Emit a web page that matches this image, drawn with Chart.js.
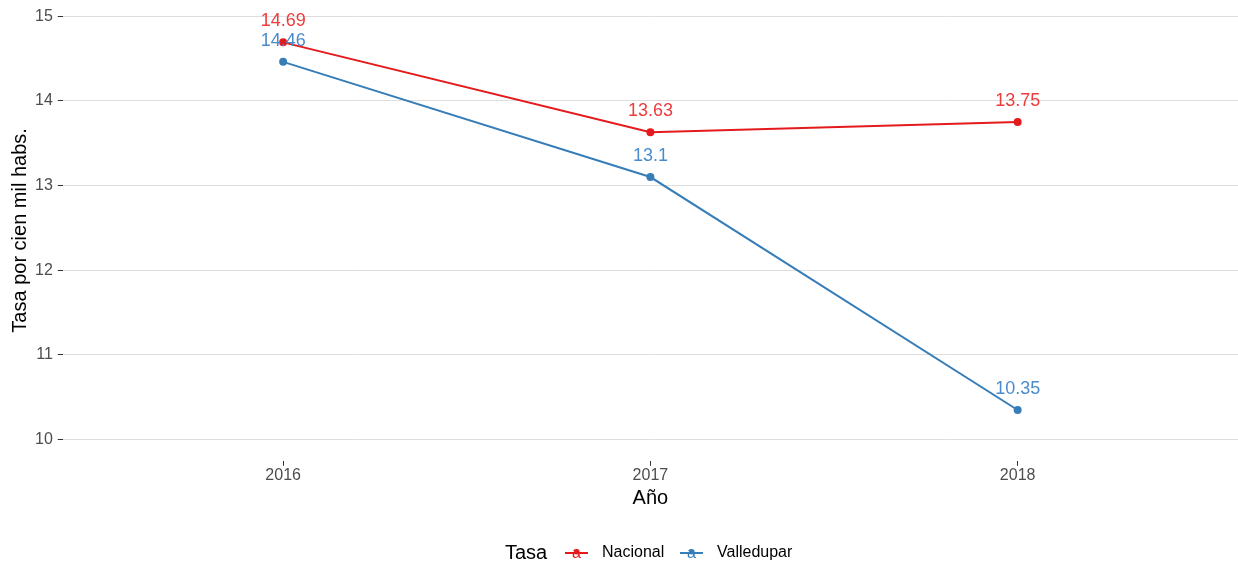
<!DOCTYPE html>
<html>
<head>
<meta charset="utf-8">
<script src="https://cdn.jsdelivr.net/npm/chart.js@4"></script>
<style>
  html, body { margin: 0; padding: 0; background: #fff; }
  #wrap { width: 1238px; height: 566px; position: relative; }
</style>
</head>
<body>
<div id="wrap"><canvas id="myChart"></canvas></div>
<script>
// data
const years = [2016, 2017, 2018];
const nacional = [14.69, 13.63, 13.75];
const valledupar = [14.46, 13.1, 10.35];
const yTicks = [10, 11, 12, 13, 14, 15];
const seriesNames = ["Nacional", "Valledupar"];
const lineColors = ["#E41A1C", "#377EB8"];
const textColors = ["#EE3B3D", "#4A8CCB"];

const FONT = "'Liberation Sans', Arial, sans-serif";

// value labels above each point
const pointLabels = {
    id: "pointLabels",
    afterDatasetsDraw(chart) {
        const ctx = chart.ctx;
        ctx.save();
        ctx.font = "18px " + FONT;
        ctx.textAlign = "center";
        ctx.textBaseline = "middle";
        chart.data.datasets.forEach((ds, i) => {
            const meta = chart.getDatasetMeta(i);
            meta.data.forEach((pt, j) => {
                ctx.fillStyle = textColors[i];
                ctx.fillText(String(ds.data[j].y), pt.x, pt.y - 21);
            });
        });
        ctx.restore();
    }
};

// ggplot-like legend at the bottom
const bottomLegend = {
    id: "bottomLegend",
    afterDraw(chart) {
        const ctx = chart.ctx;
        const y = 553;
        ctx.save();
        ctx.textBaseline = "middle";
        ctx.textAlign = "left";
        ctx.font = "20px " + FONT;
        ctx.fillStyle = "#000";
        ctx.fillText("Tasa", 505, y);
        const keyX = [565, 680];
        seriesNames.forEach((name, i) => {
            const x0 = keyX[i];
            ctx.strokeStyle = lineColors[i];
            ctx.lineWidth = 2;
            ctx.beginPath();
            ctx.moveTo(x0, y);
            ctx.lineTo(x0 + 23, y);
            ctx.stroke();
            ctx.fillStyle = lineColors[i];
            ctx.beginPath();
            ctx.arc(x0 + 11.5, y - 1, 2.5, 0, Math.PI * 2);
            ctx.fill();
            ctx.font = "16px " + FONT;
            ctx.textAlign = "center";
            ctx.fillText("a", x0 + 11.5, y + 1);
            ctx.textAlign = "left";
            ctx.fillStyle = "#000";
            ctx.font = "16px " + FONT;
            ctx.fillText(name, x0 + 37, y);
        });
        ctx.restore();
    }
};

const toPoints = (vals) => vals.map((v, i) => ({ x: years[i], y: v }));

new Chart("myChart", {
    type: "line",
    data: {
        datasets: [nacional, valledupar].map((vals, i) => ({
            label: seriesNames[i],
            data: toPoints(vals),
            borderColor: lineColors[i],
            backgroundColor: lineColors[i],
            borderWidth: 2,
            pointRadius: 3,
            pointHoverRadius: 3,
            tension: 0
        }))
    },
    options: {
        responsive: true,
        maintainAspectRatio: false,
        animation: false,
        layout: { autoPadding: false, padding: { top: 0, right: 0, left: 3, bottom: 56 } },
        plugins: {
            legend: { display: false },
            tooltip: { enabled: false }
        },
        scales: {
            x: {
                type: "linear",
                min: 2015.4,
                max: 2018.6,
                afterBuildTicks: (axis) => { axis.ticks = years.map(v => ({ value: v })); },
                afterFit: (axis) => { axis.paddingLeft = 0; axis.paddingRight = 0; },
                ticks: {
                    color: "#4D4D4D",
                    font: { size: 16, family: FONT },
                    padding: 0,
                    callback: (v) => String(v)
                },
                grid: { drawOnChartArea: false, tickLength: 5, tickColor: "#333", tickWidth: 1 },
                border: { display: false },
                title: { display: true, text: "Año", color: "#000", font: { size: 20, family: FONT }, padding: { top: 1, bottom: 0 } }
            },
            y: {
                min: 9.75,
                max: 15.19,
                afterBuildTicks: (axis) => { axis.ticks = yTicks.map(v => ({ value: v })); },
                afterFit: (axis) => { axis.paddingTop = 0; axis.paddingBottom = 0; },
                ticks: {
                    color: "#4D4D4D",
                    font: { size: 16, family: FONT },
                    padding: 5,
                    callback: (v) => String(v)
                },
                grid: { color: "#DEDEDE", lineWidth: 1, tickLength: 5, tickColor: "#333" },
                border: { display: false },
                title: { display: true, text: "Tasa por cien mil habs.", color: "#000", font: { size: 20, family: FONT }, padding: { top: 5, bottom: -2 } }
            }
        }
    },
    plugins: [pointLabels, bottomLegend]
});
</script>
</body>
</html>
